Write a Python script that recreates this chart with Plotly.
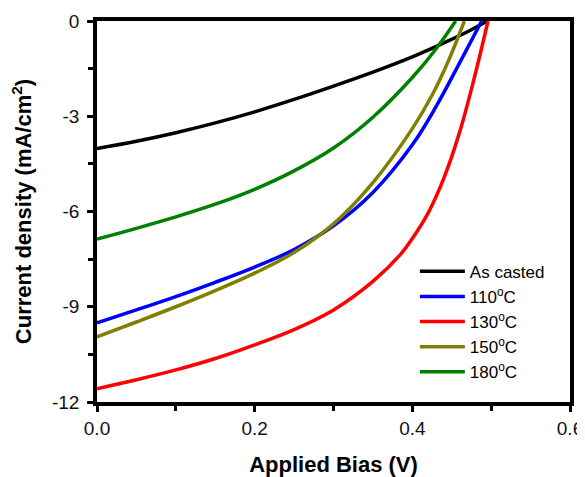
import plotly.graph_objects as go

# Data (Applied bias V, current density mA/cm^2)
names = ["As casted", "110<sup>o</sup>C", "130<sup>o</sup>C", "150<sup>o</sup>C", "180<sup>o</sup>C"]
colors = ["#000000", "#0000FF", "#FF0000", "#808000", "#008000"]

x_cast = [0, 0.05, 0.1, 0.15, 0.2, 0.25, 0.3, 0.35, 0.4, 0.44, 0.47, 0.495]
y_cast = [-4.02, -3.79, -3.52, -3.21, -2.86, -2.47, -2.05, -1.61, -1.13, -0.69, -0.34, 0.0]

x_110 = [0, 0.05, 0.1, 0.15, 0.2, 0.25, 0.3, 0.35, 0.4, 0.43, 0.46, 0.488]
y_110 = [-9.51, -9.1, -8.68, -8.23, -7.75, -7.2, -6.45, -5.4, -3.9, -2.7, -1.32, 0.0]

x_130 = [0, 0.05, 0.1, 0.15, 0.2, 0.25, 0.3, 0.35, 0.385, 0.4, 0.42, 0.44, 0.46, 0.478, 0.496]
y_130 = [-11.58, -11.3, -10.99, -10.63, -10.2, -9.72, -9.1, -8.2, -7.35, -6.85, -6.05, -4.95, -3.5, -1.85, 0.0]

x_150 = [0, 0.05, 0.1, 0.15, 0.2, 0.25, 0.3, 0.35, 0.4, 0.425, 0.445, 0.466]
y_150 = [-9.95, -9.48, -9.0, -8.49, -7.94, -7.29, -6.39, -5.09, -3.39, -2.34, -1.3, 0.0]

x_180 = [0, 0.05, 0.1, 0.15, 0.2, 0.25, 0.3, 0.35, 0.4, 0.43, 0.455]
y_180 = [-6.87, -6.53, -6.17, -5.77, -5.3, -4.72, -4.0, -3.03, -1.78, -0.88, 0.0]

xs = [x_cast, x_110, x_130, x_150, x_180]
ys = [y_cast, y_110, y_130, y_150, y_180]

x_ticks = [0.0, 0.2, 0.4, 0.6]
x_ticklabels = ["0.0", "0.2", "0.4", "0.6"]
y_ticks = [-12, -9, -6, -3, 0]
y_ticklabels = ["-12", "-9", "-6", "-3", "0"]

fig = go.Figure()
for name, c, x, y in zip(names, colors, xs, ys):
    fig.add_trace(go.Scatter(x=x, y=y, mode="lines", name=name,
                             line=dict(color=c, width=3.5, shape="spline", smoothing=1.0)))

font_family = "Liberation Sans, Arial, sans-serif"
axis_common = dict(
    showline=True, linewidth=3.5, linecolor="black", mirror=True,
    ticks="outside", ticklen=6, tickwidth=3, tickcolor="black",
    showgrid=False, zeroline=False, automargin=False,
    tickfont=dict(family=font_family, size=19, color="#111111"),
)

fig.update_xaxes(
    range=[0, 0.6], tickmode="array", tickvals=x_ticks, ticktext=x_ticklabels,
    minor=dict(dtick=0.1, ticks="outside", ticklen=5, tickwidth=3, tickcolor="black"),
    title=dict(text="<b>Applied Bias (V)</b>", font=dict(family=font_family, size=22, color="black"), standoff=22),
    **axis_common,
)
fig.update_yaxes(
    range=[-12, 0], tickmode="array", tickvals=y_ticks, ticktext=y_ticklabels,
    minor=dict(dtick=1.5, tick0=0, ticks="outside", ticklen=5, tickwidth=3, tickcolor="black"),
    title=dict(text="<b>Current density (mA/cm<sup>2</sup>)</b>", font=dict(family=font_family, size=22, color="black"), standoff=16),
    ticklabelstandoff=4,
    **axis_common,
)

fig.update_layout(
    width=577, height=469,
    margin=dict(l=89, r=15, t=13, b=75, autoexpand=False),
    plot_bgcolor="white", paper_bgcolor="white",
    legend=dict(x=0.672, y=0.389, xanchor="left", yanchor="top",
                bgcolor="rgba(0,0,0,0)", borderwidth=0, itemwidth=45,
                font=dict(family=font_family, size=17, color="black"),
                tracegroupgap=0),
    showlegend=True,
)

fig.write_html("out.html")
